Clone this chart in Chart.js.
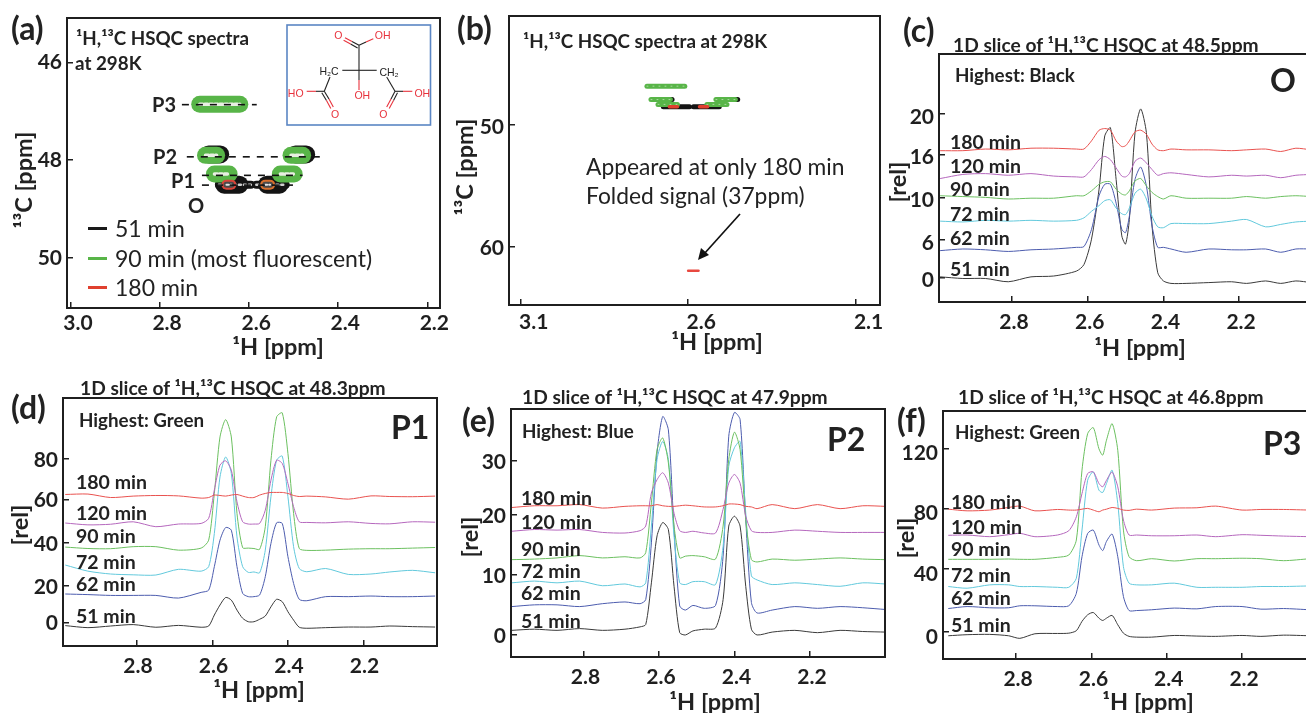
<!DOCTYPE html>
<html><head><meta charset="utf-8">
<script src="https://cdn.jsdelivr.net/npm/chart.js@4"></script>
<style>
html,body{margin:0;padding:0;background:#fff;width:1306px;height:713px;overflow:hidden}
#page{position:absolute;left:0;top:0;width:1306px;height:713px;overflow:hidden;font-family:Lato,"Open Sans",sans-serif;color:#222}
canvas{position:absolute}
.t{position:absolute;white-space:nowrap;line-height:1;transform:translateY(-50%)}
.clip{position:absolute;overflow:hidden;white-space:nowrap}
svg{position:absolute;left:0;top:0}
</style></head><body><div id="page"></div>
<script>
// ---------- panel (a) / (b) HSQC contours: [ppm from, ppm to, 13C ppm] ----------
const aTicksX=[3.0,2.8,2.6,2.4,2.2], aTicksY=[46,48,50];
const aOxidised=[[2.656,2.622,48.5],[2.560,2.532,48.5]];
const aOxidisedTips=[[2.668,2.596,48.5],[2.584,2.518,48.5]];
const aBlackHalo=[[2.691,2.665,47.88],[2.496,2.472,47.88]];
const aGreen=[[2.711,2.621,46.85],[2.698,2.673,47.9],[2.506,2.480,47.9],[2.678,2.645,48.28],[2.530,2.499,48.28]];
const aRed=[[2.651,2.640,48.5],[2.564,2.553,48.5]];
const aGuides=[[2.751,2.583,46.86],[2.740,2.433,47.93],[2.706,2.480,48.31],[2.706,2.491,48.51]];
const bTicksX=[3.1,2.6,2.1], bTicksY=[50,60];
const bBlack=[[2.674,2.596,48.5],[2.584,2.507,48.5],[2.705,2.648,47.9],[2.512,2.452,47.9]];
const bGreen=[[2.723,2.610,46.8],[2.711,2.653,47.9],[2.517,2.459,47.9],[2.69,2.632,48.3],[2.544,2.484,48.3]];
const bRed=[[2.656,2.632,48.5],[2.566,2.542,48.5]];
const bFolded=[[2.60,2.569,62.0]];
// ---------- panel (c) O, slice at 48.5 ppm ----------
const cPpm=[2.99,2.93,2.87,2.81,2.75,2.69,2.63,2.61,2.59,2.57,2.555,2.54,2.525,2.51,2.50,2.49,2.475,2.46,2.445,2.43,2.415,2.40,2.38,2.34,2.28,2.22,2.18,2.13,2.09,2.05,2.01];
const c51=[0.1,-0.1,-0.1,-0.5,0.1,0.2,0.8,1.6,4.7,10.8,17.3,18.3,12.0,5.1,4.1,7.1,17.7,20.6,17.7,6.3,0.6,-0.4,-0.7,-0.7,-0.6,-0.5,-0.7,-0.4,-0.7,-0.4,-0.6];
const c62=[3.3,3.5,3.4,3.2,3.4,3.5,3.7,3.8,5.9,10,11.4,11.4,9.1,5.9,5.5,7.5,12,13.5,11.2,6.3,3.7,3.7,3.5,3.1,3.5,3.4,3.4,3.5,3.1,3.5,3.5];
const c72=[6.9,6.8,7.0,6.9,7.0,6.9,7.0,7.3,8.1,8.8,9.4,9.5,8.5,7.8,7.7,8.5,10.3,10.8,9.6,7.5,6.2,6.1,6.6,6.6,6.6,6.9,7.1,6.2,6.5,6.8,6.9];
const c90=[10.0,9.9,9.8,9.6,9.7,9.7,10.0,10.0,10.6,11.4,11.7,11.7,10.8,10.2,10.1,10.6,11.8,12.1,11.2,10.4,9.9,9.6,10.0,9.7,9.7,9.7,9.9,9.7,9.9,10.0,9.9];
const c120=[12.1,12.6,12.7,12.5,12.7,12.4,12.3,12.3,13.2,14.4,14.8,14.4,13.4,12.4,12.3,12.7,14.2,14.6,14.0,13.2,12.5,12.7,12.8,12.6,12.3,12.5,12.4,12.5,12.2,12.5,12.6];
const c180=[15.5,15.5,15.7,15.6,15.8,15.8,15.7,15.7,16.7,18.0,18.2,18.0,16.7,16.0,16.1,16.7,17.8,18.0,17.5,16.3,15.6,15.5,15.7,15.6,15.6,15.5,15.6,15.7,15.4,15.8,15.6];
const cTickPos=[0,4.59,9.76,15.04,20], cTickLabels=["0","6","10","16","20"];
// ---------- panel (d) P1, slice at 48.3 ppm ----------
const dPpm=[2.99,2.93,2.87,2.81,2.75,2.69,2.63,2.61,2.595,2.58,2.565,2.55,2.535,2.52,2.505,2.49,2.475,2.46,2.445,2.43,2.415,2.40,2.385,2.37,2.35,2.30,2.24,2.18,2.13,2.07,2.01];
const d51=[-1.6,-2.6,-1.8,-1.1,-2.4,-1.5,-2.4,-1.8,3.6,8.5,12.2,10.9,6.0,2.0,0.3,0.3,1.5,3.1,7.6,11.3,10.1,5.2,1.1,-2.4,-2.9,-2.6,-2.3,-2.3,-1.8,-2.1,-2.3];
const d62=[13.9,13.6,13.2,13.2,13.2,11.9,14.7,15.8,27.3,40.3,46.5,45.2,27.3,14.2,12.6,12.6,13.4,22.4,38.7,48.8,48.5,32.2,19.1,11.3,10.6,12.6,12.6,12.9,12.6,12.6,12.9];
const d72=[28.1,25.1,23.7,23.3,23.2,26.0,25.1,27.3,43.6,71.3,81.1,73.0,41.9,27.3,24.5,24.7,24.3,35.4,61.6,79.5,81.5,61.6,37.1,26.4,24.8,26.4,23.5,23.7,24.7,25.5,24.3];
const d90=[36.9,36.2,36.1,37.1,37.1,35.4,36.4,40.3,63.2,90.9,99.4,90.9,53.4,36.6,36.4,36.2,35.8,46.9,79.5,100.7,102.7,82.8,53.4,36.2,35.3,35.4,35.9,36.1,36.1,36.4,36.7];
const d120=[48.7,47.8,48.1,49.3,46.9,48.2,48.5,51.0,64.9,77.1,79.2,74.6,59.1,49.3,48.2,48.2,48.5,55.0,69.7,79.5,77.9,68.1,56.7,49.3,49.0,48.8,49.3,48.5,48.3,49.3,49.1];
const d180=[62.7,62.9,61.2,61.9,62.2,62.0,60.9,61.2,62.4,62.2,61.9,62.4,62.7,61.9,61.2,61.2,62.4,63.2,63.7,63.7,63.7,63.2,62.2,61.7,61.9,61.5,60.4,62.0,61.7,61.6,61.9];
const dTickPos=[0,17.8,39.0,60.2,80], dTickLabels=["0","20","40","60","80"];
// ---------- panel (e) P2, slice at 47.9 ppm ----------
const ePpm=[2.99,2.93,2.87,2.81,2.75,2.69,2.65,2.635,2.62,2.605,2.59,2.575,2.56,2.545,2.53,2.51,2.48,2.45,2.43,2.415,2.40,2.385,2.37,2.355,2.34,2.30,2.24,2.18,2.12,2.06,2.00];
const e51=[.7,.9,.7,1.0,.7,.9,1.3,1.7,8.9,17.0,19.3,18.1,8.3,.3,-.1,.6,.9,1.1,6.0,18.7,20.4,18.7,8.3,.9,-.1,.4,.7,.3,.7,.5,.4];
const e62=[4.8,5.1,5.1,4.8,5.3,5.6,5.3,6.0,15.8,31.3,37.6,35.3,18.1,4.9,4.2,5.0,4.5,5.0,13.5,34.2,38.3,37.1,19.8,5.5,3.7,4.2,4.8,4.5,4.8,4.6,4.3];
const e72=[8.9,9.2,8.9,9.2,8.4,8.7,8.2,8.9,18.7,30.2,33.3,30.2,17.0,8.9,8.6,9.1,9.1,8.6,15.2,29.0,32.2,33.3,21.0,10.1,9.4,8.6,8.9,8.6,8.3,8.9,8.7];
const e90=[12.9,13.0,13.2,13.6,13.2,13.4,13.2,14.1,22.7,31.9,33.9,29.6,18.7,13.2,13.5,13.6,13.4,13.0,18.7,30.2,34.9,31.9,19.8,12.9,12.5,13.0,12.8,13.0,13.2,13.0,12.9];
const e120=[17.8,18.1,18.0,18.1,17.6,17.5,17.9,18.7,24.4,26.7,27.9,26.1,20.9,17.9,17.6,17.8,17.5,17.5,21.6,26.1,27.6,26.1,20.4,17.9,17.6,17.6,18.0,17.8,17.6,17.6,17.6];
const e180=[21.9,22.2,22.2,22.4,21.8,22.1,22.2,22.2,22.2,22.4,22.2,22.1,22.1,22.2,22.3,22.2,22.0,22.0,22.2,22.5,22.5,22.4,22.1,22.0,21.7,22.4,21.7,22.4,21.7,22.2,22.1];
const eTickPos=[0,10.34,20.69,30], eTickLabels=["0","10","20","30"];
// ---------- panel (f) P3, slice at 46.8 ppm ----------
const fPpm=[2.98,2.93,2.87,2.82,2.79,2.75,2.69,2.66,2.64,2.625,2.61,2.595,2.58,2.57,2.56,2.545,2.53,2.515,2.50,2.48,2.44,2.38,2.32,2.27,2.20,2.15,2.09,2.02];
const f51=[-2.4,-1.7,-1.5,-2.4,-4.1,-1.1,-.9,-.7,.9,7.0,11.3,12.8,9.1,7.6,9.1,10.9,4.8,-.7,-2.8,-3.3,-3.3,-2.2,-2.6,-2.8,-2.2,-2.8,-2.0,-2.4];
const f62=[15.4,16.7,15.9,15.9,17.2,17.2,16.7,17.2,25.4,49.3,64.5,66.7,57.0,53.3,59.3,64.1,49.3,23.3,14.1,14.1,14.6,15.7,15.2,16.7,16.7,15.0,15.4,14.6];
const f72=[29.8,28.7,30.9,30.9,29.8,29.8,29.3,29.3,35.2,66.7,99.3,104.8,92.8,91.3,97.2,105.9,84.1,42.8,32.0,30.9,30.9,32.0,29.3,29.3,29.3,29.8,29.8,30.2];
const f90=[47.6,47.6,47.6,47.8,47.6,47.6,48.9,50.4,60.2,105.9,129.8,133.7,119.9,115.7,125.5,136.3,118.9,66.7,49.3,46.7,48.0,46.5,48.0,48.0,48.3,48.0,46.7,48.0];
const f120=[63.3,63.5,62.4,63.7,64.6,62.4,63.5,66.3,75.4,90.6,103.7,104.8,97.2,95.0,99.3,104.6,95.0,73.3,63.5,63.5,63.0,63.0,63.5,62.4,63.7,63.3,62.8,62.4];
const f180=[80.4,79.3,79.8,81.5,82.4,79.3,80.2,79.8,79.8,80.4,80.9,79.8,78.7,79.8,80.4,81.5,80.9,79.8,79.6,80.4,79.8,81.1,81.3,82.4,79.8,80.2,80.2,79.8];
const fTickPos=[0,41.3,80.9,120], fTickLabels=["0","40","80","120"];
const sliceTicksX=[2.8,2.6,2.4,2.2];
const timeLabels=["51 min","62 min","72 min","90 min","120 min","180 min"];
const timeColors=["#3a3a3a","#4c5cae","#62c9dc","#6cc060","#b567bd","#e9524f"];

const page=document.getElementById('page');
const INK='#1f1f1f';
function text(str,x,y,size,weight,extra){const d=document.createElement('div');d.className='t';d.textContent=str;
  d.style.cssText=`left:${x}px;top:${y}px;font-size:${size}px;font-weight:${weight};`+(extra||'');page.appendChild(d);return d;}
function vtext(str,x,y,size){return text(str,x,y,size,700,'transform:translate(-50%,-50%) rotate(-90deg);');}
function ctext(str,x,y,size){return text(str,x,y,size,700,'transform:translate(-50%,-50%);');}
function clipTitle(str,x,y,size,clipBottom){const d=document.createElement('div');d.className='clip';d.textContent=str;
  d.style.cssText=`left:${x}px;top:${y-size/2-3}px;height:${clipBottom-(y-size/2-3)}px;font-size:${size}px;font-weight:700;line-height:${size+6}px;`;page.appendChild(d);}

const boxPlugin={id:'box',afterDraw(c){const a=c.chartArea,x=c.ctx;x.save();x.strokeStyle=INK;x.lineWidth=2;
  x.strokeRect(a.left,a.top,a.right-a.left,a.bottom-a.top);x.restore();}};
const noPad=s=>{s.paddingTop=s.paddingBottom=s.paddingLeft=s.paddingRight=0;};

function panel(b,xr,yr,xt,yt,yl,ds,lo,pad,yo){
  const L=60,T=10,R=10,B=42;
  const cv=document.createElement('canvas');cv.width=b.r-b.l+L+R;cv.height=b.b-b.t+T+B;
  cv.style.left=(b.l-L)+'px';cv.style.top=(b.t-T)+'px';page.appendChild(cv);
  const font={family:'Lato',size:21,weight:'700'};
  return new Chart(cv,{type:'line',data:{datasets:ds.slice().reverse()},plugins:[boxPlugin],options:{
    responsive:false,animation:false,events:[],
    layout:{padding:{top:T,right:R,left:0,bottom:0}},
    plugins:{legend:{display:false},tooltip:{enabled:false}},
    elements:{point:{radius:0}},
    scales:{
      x:{type:'linear',reverse:true,min:xr[1],max:xr[0],
        afterBuildTicks:s=>{s.ticks=xt.map(v=>({value:v}));},
        afterFit:s=>{s.height=B;noPad(s);},
        border:{display:false},
        grid:{drawOnChartArea:false,drawTicks:true,tickLength:-6,lineWidth:1.5,color:INK},
        ticks:{color:INK,font,padding:pad,autoSkip:false,maxRotation:0,labelOffset:lo,callback:v=>v.toFixed(1)}},
      y:{type:'linear',reverse:!!b.rev,min:yr[0],max:yr[1],
        afterBuildTicks:s=>{s.ticks=yt.map(v=>({value:v}));},
        afterFit:s=>{s.width=L;noPad(s);},
        border:{display:false},
        grid:{drawOnChartArea:false,drawTicks:true,tickLength:-6,lineWidth:1.5,color:INK},
        ticks:{color:INK,font,padding:11,autoSkip:false,labelOffset:yo,callback:(v,i)=>yl?yl[i]:String(v)}}
    }}});
}
function pills(list,color,w,dash,cap){return list.map(p=>({data:[{x:p[0],y:p[2]},{x:p[1],y:p[2]}],borderColor:color,borderWidth:w,
  borderCapStyle:cap||'round',borderDash:dash||[],tension:0}));}
function slices(ppm,arrs){return arrs.map((a,i)=>({label:timeLabels[i],data:a.map((v,k)=>({x:ppm[k],y:v})),borderColor:timeColors[i],
  borderWidth:1,tension:0.25}));}

// panel a
panel({l:67,r:440.7,t:18,b:308,rev:true},[3.009,2.1715],[45.083,51.03],aTicksX,aTicksY,null,[
  ...pills(aOxidised,'#141414',18),
  ...pills(aOxidisedTips,'#141414',8),
  ...pills(aBlackHalo,'#141414',18),
  ...pills(aGreen,'#58b548',17),
  ...pills(aGreen,'#e8efe2',3.5,[3,2]),
  ...pills(aOxidisedTips,'#cfcfcf',2.5,[2,3]),
  ...pills(aRed.slice(0,1),'#d8453a',10),
  ...pills(aRed.slice(1),'#d9702e',10),
  ...pills(aRed,'#4a4a4a',6),
  ...pills(aRed,'#e6e6e6',2,[2,2]),
  ...pills(aGuides,'#111',1.6,[7,7],'butt')
],7,9,0);
// panel b
panel({l:509.3,r:880.7,t:15.7,b:305.3,rev:true},[3.135,2.027],[41.02,64.82],bTicksX,bTicksY,null,[
  ...pills(bBlack,'#141414',5),
  ...pills(bGreen,'#58b548',5),
  ...pills(bGreen,'#a9d79f',1,[1,5]),
  ...pills(bRed,'#e0402f',3.5),
  ...pills(bFolded,'#e8483f',2.5)
],13,11,2);
// slices
panel({l:939.3,r:1312,t:54.3,b:302.7},[2.993,2.010],[-2.97,27.3],sliceTicksX,cTickPos,cTickLabels,slices(cPpm,[c51,c62,c72,c90,c120,c180]),2,14,3);
panel({l:63.3,r:437.7,t:397.7,b:646},[2.996,2.005],[-11.6,110],sliceTicksX,dTickPos,dTickLabels,slices(dPpm,[d51,d62,d72,d90,d120,d180]),1,14,1);
panel({l:510.7,r:885,t:409.3,b:657.7},[2.992,2.001],[-3.9,38.9],sliceTicksX,eTickPos,eTickLabels,slices(ePpm,[e51,e62,e72,e90,e120,e180]),2,14,2);
panel({l:943.3,r:1312,t:410.7,b:659.3},[2.994,2.017],[-17.6,144.6],sliceTicksX,fTickPos,fTickLabels,slices(fPpm,[f51,f62,f72,f90,f120,f180]),2,14,5);

// panel letters
[["(a)",11,28],["(b)",457,28],["(c)",903,30],["(d)",11,407],["(e)",462,420],["(f)",897,420]].forEach(p=>text(p[0],p[1],p[2],32,700));
// axis titles
ctext("¹H [ppm]",278,347,23.5);ctext("¹H [ppm]",717,342,23.5);ctext("¹H [ppm]",1140,348,23.5);
ctext("¹H [ppm]",259,690,23.5);ctext("¹H [ppm]",715,702,23.5);ctext("¹H [ppm]",1148,702,23.5);
vtext("¹³C [ppm]",24,180,23.5);vtext("¹³C [ppm]",465,167,23.5);
vtext("[rel]",898,182,23.5);vtext("[rel]",20,525,23.5);vtext("[rel]",470,537,23.5);vtext("[rel]",906,538,23.5);
// headings
text("¹H,¹³C HSQC spectra",76,38,18.8,700);text("at 298K",75,63,18.8,700);
text("¹H,¹³C HSQC spectra at 298K",523,41,18.8,700);
clipTitle("1D slice of ¹H,¹³C HSQC at 48.5ppm",953,45,19.2,54);
clipTitle("1D slice of ¹H,¹³C HSQC at 48.3ppm",80,388,19.2,397);
text("1D slice of ¹H,¹³C HSQC at 47.9ppm",522,397,19.2,700);
text("1D slice of ¹H,¹³C HSQC at 46.8ppm",958,397,19.2,700);
text("Highest: Black",955,75,18.8,700);text("Highest: Green",79,420,18.8,700);
text("Highest: Blue",522,431,18.8,700);text("Highest: Green",955,432,18.8,700);
text("O",1270,80,32,700);text("P1",391,427,32,700);text("P2",827,439,32,700);text("P3",1263,443,32,700);
// slice labels, from 180 min downward
const labelNames=timeLabels.slice().reverse();
[[950,[142,166,189,214,238,269]],[76,[482,513,536,562,584,616]],[521,[498,522,549,571,593,621]],[951,[502,527,549,575,598,625]]]
 .forEach(g=>g[1].forEach((y,i)=>text(labelNames[i],g[0],y,19.5,700)));
// peak labels in (a)
text("P3",152,104,20,700);text("P2",153,156,20,700);text("P1",171,180,20,700);text("O",188,205,20,700);
// legend in (a)
const legendRows=[["51 min","#1a1a1a",228],["90 min (most fluorescent)","#58b548",258],["180 min","#e0402f",287]];
legendRows.forEach(r=>{const k=document.createElement('div');k.style.cssText=`position:absolute;left:88px;top:${r[2]-1}px;width:19px;height:2.5px;background:${r[1]}`;page.appendChild(k);text(r[0],115,r[2],23,400);});
// annotation in (b)
text("Appeared at only 180 min",586,166,22.8,400);text("Folded signal (37ppm)",586,195,22.8,400);

// structure inset + arrow
const RED='#e8323c',K='#222';
const lines=[[359,45.3,359,70.3,K],[359,70.3,342.3,70.3,K],[359,70.3,376.7,70.3,K],[359,70.3,359,80,K],[359,80,359,90,RED],
[359,45.3,352,41.5,K],[352,41.5,345,37.7,RED],[357.6,47.9,350.6,44.1,K],[350.6,44.1,343.6,40.3,RED],[359,45.3,366,42,K],[366,42,373.3,38.7,RED],
[330,77,324.3,91.3,K],[324.3,91.3,316,91.3,K],[316,91.3,306.7,91.3,RED],[324.3,91.3,329,99,K],[329,99,333.3,107,RED],[321.8,92.8,326.5,100.5,K],[326.5,100.5,330.8,108.5,RED],
[386.7,77,395,91.3,K],[395,91.3,403,91.3,K],[403,91.3,412.3,91.3,RED],[395,91.3,391,99,K],[391,99,386.7,107,RED],[397.5,92.8,393.5,100.5,K],[393.5,100.5,389.2,108.5,RED]];
const labs=[["O",338.3,35.3,RED],["OH",382.7,34.7,RED],["H₂C",329,71.3,K],["CH₂",389,72,K],["OH",362.3,95.3,RED],["HO",295.7,93,RED],["O",335,113.7,RED],["OH",422.3,93,RED],["O",383.3,113.7,RED]];
let svg=`<svg width="1306" height="713" xmlns="http://www.w3.org/2000/svg"><rect x="287" y="25" width="143.5" height="100" fill="#fff" stroke="#5b86c4" stroke-width="1.6"/>`;
lines.forEach(l=>svg+=`<line x1="${l[0]}" y1="${l[1]}" x2="${l[2]}" y2="${l[3]}" stroke="${l[4]}" stroke-width="1.1"/>`);
labs.forEach(l=>svg+=`<text x="${l[1]}" y="${l[2]}" fill="${l[3]}" font-family="Liberation Sans" font-size="10.5" text-anchor="middle" dominant-baseline="central">${l[0]}</text>`);
svg+=`<line x1="740" y1="214" x2="704" y2="254" stroke="#111" stroke-width="1.7"/><polygon points="698,260 701,248 709,255" fill="#111"/></svg>`;
const holder=document.createElement('div');holder.innerHTML=svg;page.appendChild(holder);
</script></body></html>
